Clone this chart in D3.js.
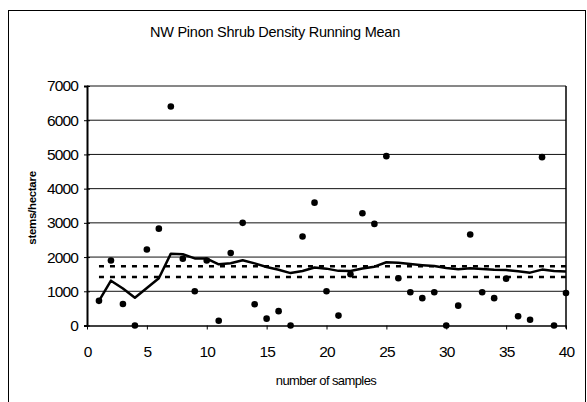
<!DOCTYPE html>
<html>
<head>
<meta charset="utf-8">
<script src="https://cdn.jsdelivr.net/npm/d3@7"></script>
<style>
  body { margin: 0; background: #fff; }
  text { font-family: "Liberation Sans", Arial, sans-serif; fill: #000; }
</style>
</head>
<body>
<svg id="chart" width="587" height="402"></svg>
<script>
// sample number vs stems/hectare
var samples = d3.range(1, 41);
var density = [720, 1900, 630, 0, 2220, 2830, 6400, 1950, 1000, 1900,
               140, 2120, 3000, 620, 200, 420, 0, 2600, 3590, 1000,
               290, 1500, 3280, 2970, 4950, 1380, 970, 800, 970, 0,
               580, 2660, 970, 800, 1370, 270, 170, 4920, 0, 950];
var runningMean = [720, 1310, 1083, 813, 1094, 1383, 2100, 2081, 1961, 1955,
                   1790, 1818, 1908, 1816, 1709, 1628, 1532, 1592, 1697, 1662,
                   1597, 1592, 1666, 1720, 1849, 1831, 1799, 1764, 1736, 1678,
                   1643, 1675, 1653, 1628, 1621, 1583, 1545, 1634, 1592, 1576];
var bounds = [1730, 1420];   // dotted limits
var yTicks = [0, 1000, 2000, 3000, 4000, 5000, 6000, 7000];
var xTicks = [0, 5, 10, 15, 20, 25, 30, 35, 40];

var svg = d3.select("#chart");

// outer frame
svg.append("rect")
  .attr("x", 8.5).attr("y", 10.5)
  .attr("width", 577).attr("height", 400)
  .attr("fill", "none").attr("stroke", "#000").attr("stroke-width", 1);

var plotL = 87, plotR = 566, plotT = 86, plotB = 325.5;
var x = d3.scaleLinear().domain([0, 40]).range([plotL, plotR]);
var y = d3.scaleLinear().domain([0, 7000]).range([plotB, plotT]);

svg.append("text")
  .attr("x", 275).attr("y", 37)
  .attr("text-anchor", "middle")
  .style("font-size", "14.5px").style("letter-spacing", "-0.25px")
  .text("NW Pinon Shrub Density Running Mean");

// gridlines
svg.append("g").selectAll("line")
  .data(yTicks.slice(1))
  .enter().append("line")
    .attr("x1", plotL).attr("x2", plotR)
    .attr("y1", function(d) { return y(d); })
    .attr("y2", function(d) { return y(d); })
    .attr("stroke", "#111").attr("stroke-width", 1);

// right border
svg.append("line")
  .attr("x1", plotR).attr("x2", plotR)
  .attr("y1", plotT).attr("y2", plotB + 3)
  .attr("stroke", "#000").attr("stroke-width", 1.5);

// axes
var yAxis = d3.axisLeft(y).tickValues(yTicks).tickSize(3).tickFormat(d3.format("d"));
var gy = svg.append("g").attr("transform", "translate(" + plotL + ",0)").call(yAxis);
gy.select(".domain").attr("stroke-width", 2);
gy.selectAll(".tick line").attr("x2", 3).attr("x1", -3);
gy.selectAll("text").attr("x", -9).style("font-size", "15.5px").style("letter-spacing", "-0.9px");

var xAxis = d3.axisBottom(x).tickValues(xTicks).tickSize(4).tickSizeOuter(0);
var gx = svg.append("g").attr("transform", "translate(0," + plotB + ")").call(xAxis);
gx.select(".domain").attr("stroke-width", 1.5);
gx.selectAll("text").attr("y", 20).style("font-size", "15.5px").style("letter-spacing", "-0.9px");

// dotted limit lines
svg.append("g").selectAll("line")
  .data(bounds)
  .enter().append("line")
    .attr("x1", x(1)).attr("x2", x(40))
    .attr("y1", function(d) { return y(d); })
    .attr("y2", function(d) { return y(d); })
    .attr("stroke", "#000").attr("stroke-width", 2.5)
    .attr("stroke-dasharray", "5,6");

// running mean line
var line = d3.line()
  .x(function(d, i) { return x(samples[i]); })
  .y(function(d) { return y(d); });
svg.append("path")
  .datum(runningMean)
  .attr("d", line)
  .attr("fill", "none").attr("stroke", "#000").attr("stroke-width", 2.5)
  .attr("stroke-linejoin", "round");

// sample points
svg.append("g").selectAll("circle")
  .data(density)
  .enter().append("circle")
    .attr("cx", function(d, i) { return x(samples[i]); })
    .attr("cy", function(d) { return y(d); })
    .attr("r", 3.3)
    .attr("fill", "#000");

svg.append("text")
  .attr("x", 326).attr("y", 385)
  .attr("text-anchor", "middle")
  .style("font-size", "13px").style("letter-spacing", "-0.6px")
  .text("number of samples");

svg.append("text")
  .attr("transform", "translate(36,208) rotate(-90)")
  .attr("text-anchor", "middle")
  .style("font-size", "11.5px").style("font-weight", "bold").style("letter-spacing", "-0.3px")
  .text("stems/hectare");
</script>
</body>
</html>
